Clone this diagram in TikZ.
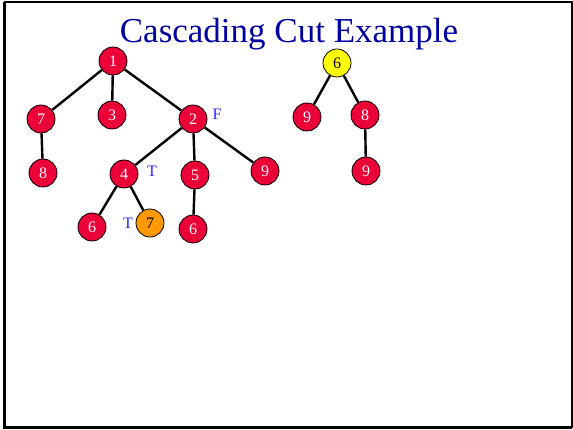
\documentclass[tikz,border=0pt]{standalone}
\usepackage{fontspec}
\setmainfont{Liberation Serif}
\definecolor{nodered}{RGB}{235,0,55}
\definecolor{nodeorange}{RGB}{255,153,0}
\definecolor{nodeyellow}{RGB}{255,255,0}
\definecolor{titleblue}{RGB}{0,0,160}
\definecolor{markblue}{RGB}{40,40,255}
\tikzset{
  tn/.style={circle, draw=black, line width=0.8pt, fill=nodered, text=white, minimum size=28pt, inner sep=0pt, font=\fontsize{16}{16}\selectfont},
  on/.style={tn, fill=nodeorange, text=black},
  yn/.style={tn, fill=nodeyellow, text=black},
  conn/.style={line width=2.4pt, black},
  flaglabel/.style={text=markblue, font=\fontsize{16}{16}\selectfont, inner sep=0pt}
}
\begin{document}
\begin{tikzpicture}[x=1pt, y=-1pt]
\useasboundingbox (0,0) rectangle (573,430);
\fill[white] (0,0) rectangle (573,430);
\draw[line width=2pt] (4.5,2.5) rectangle (571.5,427);
\draw[line width=1.5pt] (3.5,2.5) -- (3.5,428) -- (571.5,428);
\node[text=titleblue, font=\fontsize{35}{35}\selectfont, inner sep=0pt] (title) at (289,34) {Cascading Cut Example};
% first tree
\node[tn] (n1) at (113,61) {1};
\node[tn] (n7) at (41,119) {7};
\node[tn] (n3) at (112,115) {3};
\node[tn] (n2) at (193,119) {2};
\node[tn] (n8) at (43,173) {8};
\node[tn] (n4) at (124,174) {4};
\node[tn] (n5) at (195,175) {5};
\node[tn] (n9) at (265,171) {9};
\node[tn] (n6a) at (92,227) {6};
\node[on] (n7o) at (150,223) {7};
\node[tn] (n6b) at (193,229) {6};
\node[flaglabel] (f2) at (217,114) {F};
\node[flaglabel] (t4) at (152,171) {T};
\node[flaglabel] (t7) at (128,223) {T};
\draw[conn] (n1) -- (n7);
\draw[conn] (n1) -- (n3);
\draw[conn] (n1) -- (n2);
\draw[conn] (n7) -- (n8);
\draw[conn] (n2) -- (n4);
\draw[conn] (n2) -- (n5);
\draw[conn] (n2) -- (n9);
\draw[conn] (n4) -- (n6a);
\draw[conn] (n4) -- (n7o);
\draw[conn] (n5) -- (n6b);
% second tree
\node[yn] (m6) at (337,63) {6};
\node[tn] (m9) at (307,117) {9};
\node[tn] (m8) at (365,115) {8};
\node[tn] (m9b) at (366,171) {9};
\draw[conn] (m6) -- (m9);
\draw[conn] (m6) -- (m8);
\draw[conn] (m8) -- (m9b);
\end{tikzpicture}
\end{document}
